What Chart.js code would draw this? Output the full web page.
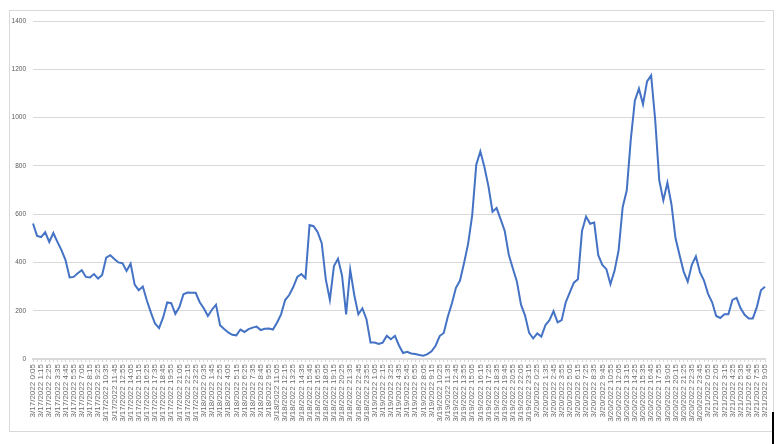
<!DOCTYPE html>
<html lang="en">
<head>
<meta charset="UTF-8">
<title>chart</title>
<script src="https://cdn.jsdelivr.net/npm/chart.js"></script>
<style>
  html, body { margin: 0; padding: 0; background: #fff; }
  #wrap { position: relative; width: 780px; height: 444px; }
  #frame { position: absolute; left: 9px; top: 10px; width: 763px; height: 420px; border: 1px solid #d9d9d9; }
  #mark { position: absolute; left: 772px; top: 412px; width: 2px; height: 32px; background: #000; }
  canvas { position: absolute; left: 0; top: 0; }
</style>
</head>
<body>
<div id="wrap">
  <div id="frame"></div>
  <canvas id="c" width="780" height="444"></canvas>
  <div id="mark"></div>
</div>
<script>
// time axis: 3/17/2022 0:05, one point every 35 minutes, label every 2nd point
const startMinute = 5;
const stepMinutes = 35;

// values
const values = [
  561, 510, 505, 525, 485, 522, 485, 451, 410, 338,
  340, 355, 368, 340, 338, 352, 333, 348, 420, 430,
  414, 400, 397, 365, 395, 308, 285, 300, 242, 192,
  147, 128, 172, 234, 231, 187, 215, 268, 275, 274,
  274, 235, 210, 178, 204, 225, 140, 124, 110, 100,
  98, 122, 112, 124, 130, 134, 120, 125, 126, 122,
  150, 185, 244, 265, 298, 340, 352, 335, 555, 550,
  525, 480, 330, 245, 385, 415, 345, 185, 370, 265,
  185, 210, 165, 68, 68, 62, 68, 96, 82, 96,
  56, 25, 30, 23, 21, 17, 14, 20, 32, 55,
  95, 108, 175, 230, 295, 325, 398, 478, 595, 805,
  860, 795, 715, 610, 625, 578, 530, 432, 375, 320,
  225, 180, 108, 85, 106, 93, 140, 161, 198, 152,
  161, 235, 276, 316, 330, 530, 590, 560, 565, 430,
  390, 372, 310, 365, 450, 629, 698, 910, 1070, 1120,
  1055, 1150, 1175, 990, 740, 657, 730, 640, 500, 430,
  362, 320, 390, 425, 360, 325, 270, 235, 178, 170,
  185, 185, 245, 253, 210, 183, 168, 168, 215, 285,
  299
];

const yTicks = [0, 200, 400, 600, 800, 1000, 1200, 1400];

function fmt(m) {
  const day = 17 + Math.floor(m / 1440);
  const r = m % 1440;
  const h = Math.floor(r / 60);
  const mm = r % 60;
  return `3/${day}/2022 ${h}:${String(mm).padStart(2, '0')}`;
}

const labels = values.map((v, i) => fmt(startMinute + i * stepMinutes));

Chart.defaults.font.family = "'Liberation Sans', Arial, sans-serif";

new Chart(document.getElementById('c'), {
  type: 'line',
  data: {
    labels: labels,
    datasets: [{
      data: values,
      borderColor: '#4472c4',
      borderWidth: 2,
      pointRadius: 0,
      tension: 0,
      fill: false
    }]
  },
  options: {
    responsive: false,
    animation: false,
    layout: { padding: { top: 21, right: 15, bottom: 0, left: 0 } },
    plugins: { legend: { display: false }, tooltip: { enabled: false } },
    scales: {
      x: {
        grid: { drawOnChartArea: false, color: '#d9d9d9', tickLength: 3 },
        border: { color: '#d9d9d9', width: 2 },
        ticks: {
          autoSkip: false,
          maxRotation: 90,
          minRotation: 90,
          padding: 2,
          color: '#6b6b6b',
          font: { size: 8 },
          callback: (v, i) => (i % 2 === 0 ? labels[i] : '')
        },
        afterFit: (s) => { s.height = 85; }
      },
      y: {
        min: 0,
        max: 1400,
        afterBuildTicks: (s) => { s.ticks = yTicks.map(v => ({ value: v })); },
        grid: { color: '#d9d9d9', drawTicks: false },
        border: { display: false },
        ticks: {
          padding: 7,
          color: '#595959',
          font: { size: 6.5 },
          callback: (v) => String(v)
        },
        afterFit: (s) => { s.width = 33; }
      }
    }
  }
});
</script>
</body>
</html>
